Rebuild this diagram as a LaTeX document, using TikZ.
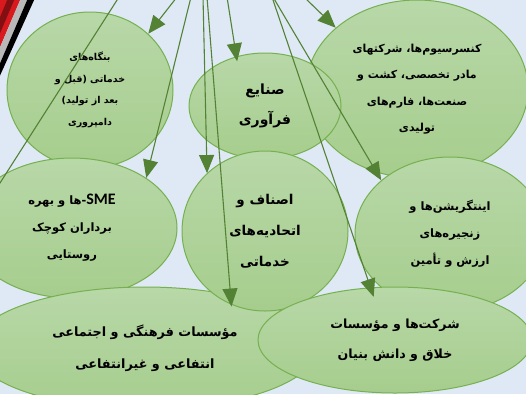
\documentclass[tikz,border=0pt]{standalone}
\usepackage{fontspec}
\usepackage{tikz}
\usetikzlibrary{arrows.meta,shapes.geometric}
\newfontfamily\farsi[Script=Arabic]{DejaVu Sans}
\newfontfamily\latinfont{Carlito}
\TeXXeTstate=1
\definecolor{bgblue}{RGB}{222,233,245}
\definecolor{leaftop}{RGB}{184,216,168}
\definecolor{leafbot}{RGB}{166,205,141}
\definecolor{leafedge}{RGB}{118,176,80}
\definecolor{stemgreen}{RGB}{84,130,53}
\definecolor{bandred}{RGB}{216,26,30}
\newcommand{\fatext}[1]{\beginR #1\endR}

\begin{document}
\begin{tikzpicture}[x=1pt, y=-1pt,
    bubble/.style={ellipse, draw=leafedge, line width=1pt, top color=leaftop,
      bottom color=leafbot, inner sep=0pt, align=center,
      font=\farsi\bfseries\fontsize{11.5}{27}\selectfont},
    link/.style={stemgreen, line width=1.1pt,
      -{Triangle[length=18pt 0 0,width=15pt 0 0]}}]
  \useasboundingbox (0,0) rectangle (526,394);
  \fill[bgblue] (0,0) rectangle (526,394);
  \begin{scope}
    \clip (0,0) rectangle (526,394);
    % corner band
    \fill[bandred] (-2,-2) -- (21,-2) -- (-2,52) -- cycle;
    \fill[bandred!60!black] (8,-2) -- (15,-2) -- (-2,38) -- (-2,22) -- cycle;
    \fill[gray!55] (21,-2) -- (28,-2) -- (-2,68) -- (-2,52) -- cycle;
    \fill[black] (28,-2) -- (35,-2) -- (-2,80) -- (-2,68) -- cycle;

    % sectors
    \node[bubble, minimum width=166pt, minimum height=156pt,
      font=\farsi\bfseries\fontsize{9.5}{21.5}\selectfont] (service) at (90,90)
      {\fatext{بنگاه‌های}\\ \fatext{خدماتی (قبل و}\\ \fatext{بعد از تولید)}\\ \fatext{دامپروری}};
    \node[bubble, minimum width=222pt, minimum height=178pt,
      font=\farsi\bfseries\fontsize{11}{26.5}\selectfont] (holding) at (417,89)
      {\fatext{کنسرسیوم‌ها، شرکتهای}\\ \fatext{مادر تخصصی، کشت و}\\ \fatext{صنعت‌ها،  فارم‌های}\\ \fatext{تولیدی}};
    \node[bubble, minimum width=152pt, minimum height=106pt,
      font=\farsi\bfseries\fontsize{14}{30}\selectfont] (process) at (265,106)
      {\fatext{صنایع}\\ \fatext{فرآوری}};
    \node[bubble, minimum width=210pt, minimum height=140pt] (small) at (72,228)
      {\fatext{{\latinfont\fontsize{16}{16}\selectfont\beginL SME\endL}-ها و بهره}\\ \fatext{برداران کوچک}\\ \fatext{روستایی}};
    \node[bubble, minimum width=190pt, minimum height=154pt] (chain) at (450,234)
      {\fatext{اینتگریشن‌ها و}\\ \fatext{زنجیره‌های}\\ \fatext{ارزش و تأمین}};
    \node[bubble, minimum width=344pt, minimum height=122pt,
      font=\farsi\bfseries\fontsize{12.8}{32}\selectfont] (culture) at (145,348)
      {\fatext{مؤسسات فرهنگی و اجتماعی}\\ \fatext{انتفاعی و غیرانتفاعی}};
    \node[bubble, minimum width=166pt, minimum height=160pt,
      font=\farsi\bfseries\fontsize{13.5}{31}\selectfont] (guild) at (265,231)
      {\fatext{اصناف و}\\ \fatext{اتحادیه‌های}\\ \fatext{خدماتی}};
    \node[bubble, minimum width=274pt, minimum height=106pt,
      font=\farsi\bfseries\fontsize{12.6}{30}\selectfont] (creative) at (395,340)
      {\fatext{شرکت‌ها و مؤسسات}\\ \fatext{خلاق و دانش بنیان}};

    % feeds from above
    \coordinate (fA) at (177,-3);
    \coordinate (fB) at (191,-3);
    \coordinate (fC) at (203,-3);
    \coordinate (fD) at (207,-3);
    \coordinate (fE) at (227,-3);
    \coordinate (fF) at (272,-3);
    \coordinate (fG) at (273,-3);
    \coordinate (fH) at (304,-3);
    \coordinate (fI) at (119,-3);
    \coordinate (offI) at (-64,283);

    \draw[link] (fA) -- (service.44);
    \draw[link] (fB) -- (small.34);
    \draw[link] (fC) -- (guild.135);
    \draw[link, shorten >=-12pt] (fD) -- (culture.32);
    \draw[link, shorten >=-5pt] (fE) -- (process.120);
    \draw[link, shorten >=-10pt] (fF) -- (creative.115);
    \draw[link] (fG) -- (chain.142);
    \draw[link] (fH) -- (holding.143);
    \draw[link] (fI) -- (offI);
  \end{scope}
\end{tikzpicture}
\end{document}
